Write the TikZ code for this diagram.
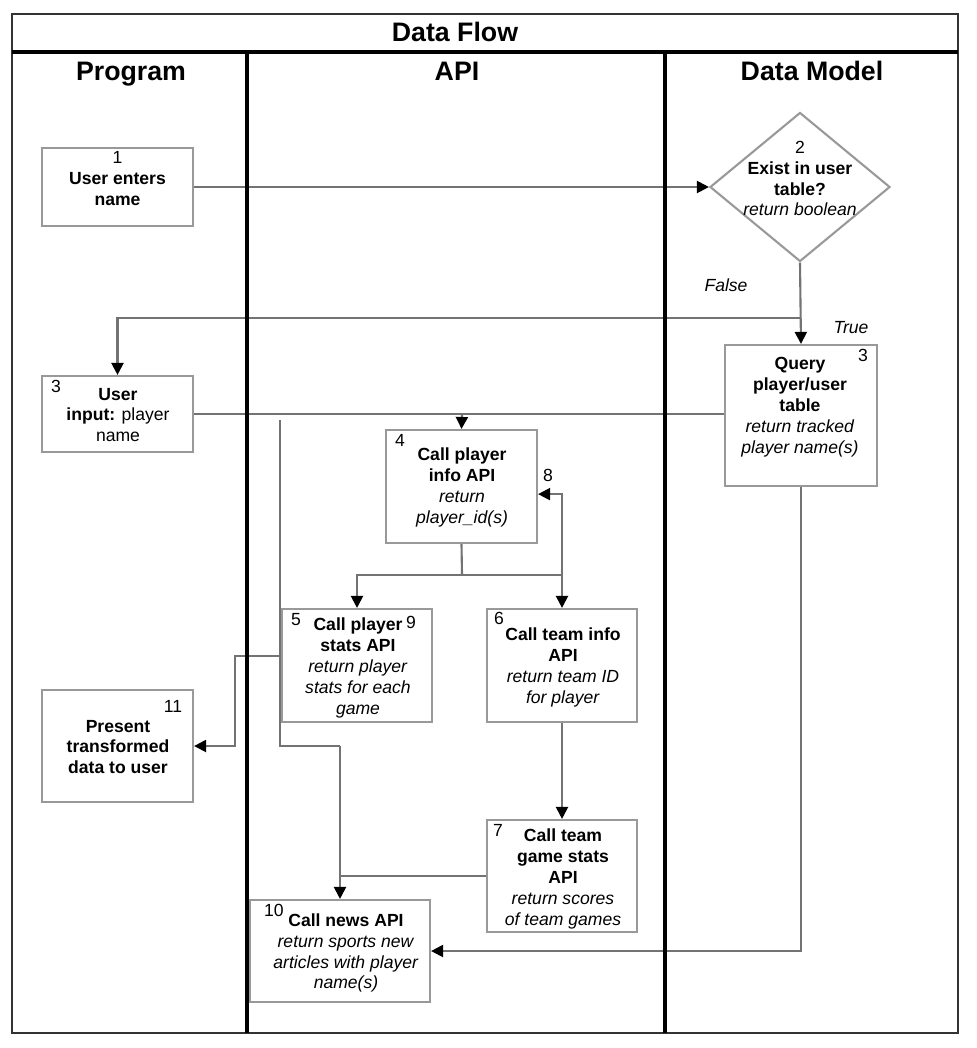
\documentclass[tikz,border=0pt]{standalone}
\usepackage{fontspec}
\setmainfont{Liberation Sans}
\usetikzlibrary{arrows.meta,shapes.geometric}

\tikzset{
  lane/.style={line width=2.4pt, black},
  frame/.style={line width=2pt, black!80},
  box/.style={draw=black!40, line width=1.5pt, inner sep=0pt},
  txt/.style={align=center, font=\fontsize{12.5}{14.9}\selectfont, inner sep=0pt},
  head/.style={font=\fontsize{19}{21}\selectfont\bfseries, inner sep=0pt, anchor=base},
  flow/.style={draw=black!55, line width=1.5pt, -{Triangle[length=0.3cm,width=0.3cm,color=black]}},
  wire/.style={draw=black!55, line width=1.5pt},
}

\begin{document}
\begin{tikzpicture}[x=0.025cm,y=-0.025cm]
			\useasboundingbox (0,0) rectangle (976,1048);
			% boxes
			\node [box, minimum width=3.775cm, minimum height=1.95cm] (enter) at (117.5,187) {};
			\node [box, diamond, minimum width=4.5cm, minimum height=3.725cm] (exist) at (800,187) {};
			\node [box, minimum width=3.8cm, minimum height=3.525cm] (query) at (801,415.5) {};
			\node [box, minimum width=3.775cm, minimum height=1.9cm] (input) at (117.5,414) {};
			\node [box, minimum width=3.775cm, minimum height=2.825cm] (pinfo) at (461.5,486.5) {};
			\node [box, minimum width=3.75cm, minimum height=2.825cm] (pstats) at (357,665.5) {};
			\node [box, minimum width=3.75cm, minimum height=2.825cm] (tinfo) at (562,665.5) {};
			\node [box, minimum width=3.75cm, minimum height=2.8cm] (tstats) at (562,876) {};
			\node [box, minimum width=4.5cm, minimum height=2.55cm] (news) at (340,951) {};
			\node [box, minimum width=3.775cm, minimum height=2.8cm] (present) at (117.5,746) {};
			% texts
			\node [txt] (tenter) at (117.5,178.5) {1\\ \textbf{User enters}\\ \textbf{name}};
			\node [txt] (texist) at (800,178.5) {2\\ \textbf{Exist in user}\\ \textbf{table?}\\ \textit{return boolean}};
			\node [txt] (tquery) at (800,407.5) {\textbf{Query}\\ \textbf{player/user}\\ \textbf{table}\\ \textit{return tracked}\\ \textit{player name(s)}};
			\node [txt] (tinput) at (118,415) {\textbf{User}\\ \textbf{input:} player\\ name};
			\node [txt] (tpinfo) at (462,487.5) {\textbf{Call player}\\ \textbf{info API}\\ \textit{return}\\ \textit{player\_id(s)}};
			\node [txt] (tpstats) at (358,668) {\textbf{Call player}\\ \textbf{stats API}\\ \textit{return player}\\ \textit{stats for each}\\ \textit{game}};
			\node [txt] (ttinfo) at (563,667.5) {\textbf{Call team info}\\ \textbf{API}\\ \textit{return team ID}\\ \textit{for player}};
			\node [txt] (ttstats) at (563,879) {\textbf{Call team}\\ \textbf{game stats}\\ \textbf{API}\\ \textit{return scores}\\ \textit{of team games}};
			\node [txt] (tnews) at (346,953) {\textbf{Call news API}\\ \textit{return sports new}\\ \textit{articles with player}\\ \textit{name(s)}};
			\node [txt] (tpresent) at (118,747) {\textbf{Present}\\ \textbf{transformed}\\ \textbf{data to user}};
			% step numbers
			\node [txt] (n3a) at (56,386) {3};
			\node [txt] (n3b) at (863,355) {3};
			\node [txt] (n4) at (400,440) {4};
			\node [txt] (n5) at (296,620) {5};
			\node [txt] (n6) at (499,618) {6};
			\node [txt] (n7) at (498,830) {7};
			\node [txt] (n8) at (548,475) {8};
			\node [txt] (n9) at (411,622) {9};
			\node [txt] (n10) at (274,910) {10};
			\node [txt] (n11) at (173,706) {11};
			\node [txt] (lfalse) at (726,285) {\textit{False}};
			\node [txt] (ltrue) at (851,328) {\textit{True}};
			% junctions
			\coordinate (fork) at (800,318);
			\coordinate (merge) at (462,414);
			\coordinate (split) at (462,575);
			\coordinate (tap) at (280,420);
			\coordinate (down) at (340,746);
			\coordinate (back) at (235,746);
			% connectors
			\draw [flow] (enter.east) -- (exist.west);
			\draw [flow] (exist.south) -- (query.north);
			\draw [flow] (fork) -| (input.north);
			\draw [wire] (input.east) -- (merge);
			\draw [wire] (query.west |- merge) -- (merge);
			\draw [flow] (merge) -- (pinfo.north);
			\draw [wire] (pinfo.south) -- (split);
			\draw [flow] (split) -| (pstats.north);
			\draw [flow] (split) -| (tinfo.north);
			\draw [flow] (split -| tinfo.north) |- ([yshift=-0.19cm]pinfo.east);
			\draw [flow] (tinfo.south) -- (tstats.north);
			\draw [flow] ([yshift=0.24cm]pstats.west) -| (back) -- (present.east);
			\draw [wire] (tap) |- (down);
			\draw [wire] (down) -- (tstats.west -| down);
			\draw [flow] (tstats.west) -| (news.north);
			\draw [flow] (query.south) |- (news.east);
			% frame and lanes
			\draw [frame] (12,14) rectangle (958,1033);
			\draw [lane] (12,52) -- (958,52);
			\foreach \Lane in {247,665}
				\draw [lane] (\Lane,52) -- (\Lane,1033);
			\node [head] (title) at (455,41) {Data Flow};
			\node [head] (hprog) at (131,80) {Program};
			\node [head] (hapi) at (457,80) {API};
			\node [head] (hdata) at (812,80) {Data Model};
		\end{tikzpicture}
\end{document}
